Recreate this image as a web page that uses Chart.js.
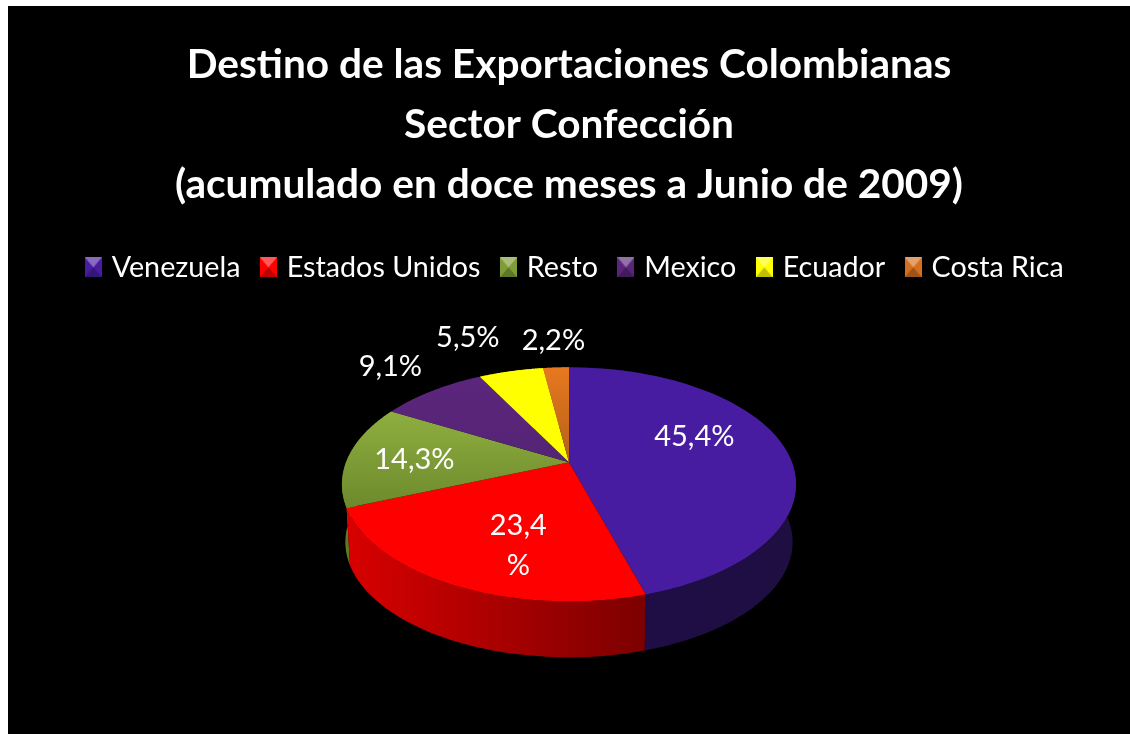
<!DOCTYPE html>
<html lang="es">

<head>
  <meta charset="UTF-8">
  <title>Destino de las Exportaciones Colombianas</title>
  <script src="https://cdn.jsdelivr.net/npm/chart.js"></script>
  <style>
    html, body { margin: 0; background: #fff; overflow: hidden; }
    #wrap { position: absolute; left: 8px; top: 6px; width: 1122px; height: 728px; background: #000; }
  </style>
</head>

<body>
  <div id="wrap"><canvas id="pie" width="1122" height="728"></canvas></div>

<script>
  const paises = ['Venezuela', 'Estados Unidos', 'Resto', 'Mexico', 'Ecuador', 'Costa Rica'];
  const participacion = [45.4, 23.4, 14.3, 9.1, 5.5, 2.2];
  const titulo = ['Destino de las Exportaciones Colombianas', 'Sector Confección', '(acumulado en doce meses a Junio de 2009)'];

  const colores = ['#471ca0', '#ff0000', '#7f9c37', '#59257a', '#ffff00', '#d46f1f'];
  const coloresArriba = ['#471ca0', '#ff0000', '#8fae3f', '#5b267d', '#ffff00', '#e8781f'];
  const coloresAbajo = ['#471ca0', '#ff0000', '#6c8a2c', '#552474', '#ffff00', '#b5601a'];
  const paredIzq = ['#1f0e48', '#d80000', '#5f7a26', '#2e1240', '#9a9a00', '#8a4a12'];
  const paredDer = ['#1f0e42', '#7c0000', '#5f7a26', '#2e1240', '#9a9a00', '#8a4a12'];

  // ajuste de cada etiqueta respecto a su punto sobre la torta
  const etiquetaFuera = [false, false, false, true, true, true];
  const etiquetaAjuste = [[-5, -16], [14, 15], [-22, 2], [-24, -15], [-36, -22], [-1, -15]];
  const etiquetaPartida = [false, true, false, false, false, false];

  // perspectiva de la torta
  const k = 0.188, escalaX = 1.906, escalaY = 0.965, subidaCentro = 22;
  const profundidad = 58, encogeBase = 0.985;

  function proyecta(el, ang, f) {
    const u = f * Math.cos(ang), v = f * Math.sin(ang), s = 1 / (1 - k * v);
    return {
      x: el.x + escalaX * el.outerRadius * u * s,
      y: el.y - subidaCentro + escalaY * el.outerRadius * v * s
    };
  }

  function base(el, p) {
    const cy = el.y - subidaCentro;
    return { x: el.x + (p.x - el.x) * encogeBase, y: cy + (p.y - cy) * encogeBase + profundidad };
  }

  function borde(el) {
    const n = 60, pts = [];
    for (let i = 0; i <= n; i++) {
      pts.push(proyecta(el, el.startAngle + (el.endAngle - el.startAngle) * i / n, 1));
    }
    return pts;
  }

  function marcador(color) {
    const c = document.createElement('canvas');
    c.width = 17; c.height = 20;
    const g = c.getContext('2d');
    g.fillStyle = color; g.fillRect(0, 0, 17, 20);
    g.fillStyle = 'rgba(255,255,255,0.35)';
    g.beginPath(); g.moveTo(0, 0); g.lineTo(17, 0); g.lineTo(8.5, 10); g.fill();
    g.fillStyle = 'rgba(0,0,0,0.25)';
    g.beginPath(); g.moveTo(0, 20); g.lineTo(17, 20); g.lineTo(8.5, 10); g.fill();
    return c;
  }

  const torta3d = {
    id: 'torta3d',
    afterLayout(chart) {
      // la leyenda va un poco a la derecha del centro
      chart.legend.left += 15;
    },
    beforeDatasetsDraw(chart) {
      const ctx = chart.ctx;
      const arcos = chart.getDatasetMeta(0).data;

      // paredes, de atras hacia adelante
      const orden = arcos.map((el, i) => i).sort((a, b) =>
        Math.sin((arcos[a].startAngle + arcos[a].endAngle) / 2) - Math.sin((arcos[b].startAngle + arcos[b].endAngle) / 2));
      orden.forEach(i => {
        const el = arcos[i], pts = borde(el);
        const abajo = pts.map(p => base(el, p)).reverse();
        const xs = pts.map(p => p.x);
        const grad = ctx.createLinearGradient(Math.min(...xs), 0, Math.max(...xs), 0);
        grad.addColorStop(0, paredIzq[i]);
        grad.addColorStop(1, paredDer[i]);
        ctx.beginPath();
        pts.concat(abajo).forEach((p, j) => j ? ctx.lineTo(p.x, p.y) : ctx.moveTo(p.x, p.y));
        ctx.closePath();
        ctx.fillStyle = grad;
        ctx.fill();
      });

      // cara superior
      arcos.forEach((el, i) => {
        const pts = borde(el), c = proyecta(el, 0, 0);
        const ys = pts.map(p => p.y).concat(c.y);
        const grad = ctx.createLinearGradient(0, Math.min(...ys), 0, Math.max(...ys));
        grad.addColorStop(0, coloresArriba[i]);
        grad.addColorStop(1, coloresAbajo[i]);
        ctx.beginPath();
        ctx.moveTo(c.x, c.y);
        pts.forEach(p => ctx.lineTo(p.x, p.y));
        ctx.closePath();
        ctx.fillStyle = grad;
        ctx.fill();
      });

      // etiquetas
      ctx.font = '29px Lato';
      ctx.fillStyle = '#fff';
      ctx.textAlign = 'center';
      ctx.textBaseline = 'middle';
      arcos.forEach((el, i) => {
        const p = proyecta(el, (el.startAngle + el.endAngle) / 2, etiquetaFuera[i] ? 1.15 : 0.6);
        const x = p.x + etiquetaAjuste[i][0], y = p.y + etiquetaAjuste[i][1];
        const txt = participacion[i].toFixed(1).replace('.', ',');
        if (etiquetaPartida[i]) {
          ctx.fillText(txt, x, y - 20);
          ctx.fillText('%', x, y + 20);
        } else {
          ctx.fillText(txt + '%', x, y);
        }
      });
      return false;
    }
  };

  new Chart(document.getElementById('pie'), {
    type: 'pie',
    data: {
      labels: paises,
      datasets: [{ data: participacion, backgroundColor: colores, radius: 117, borderWidth: 0 }]
    },
    plugins: [torta3d],
    options: {
      responsive: false,
      animation: false,
      layout: { padding: { bottom: 57 } },
      plugins: {
        tooltip: { enabled: false },
        title: {
          display: true,
          text: titulo,
          color: '#fff',
          font: { family: 'Lato', size: 40.6, weight: 'bold', lineHeight: 60 / 40.6 },
          padding: { top: 29, bottom: 14 }
        },
        legend: {
          position: 'top',
          labels: {
            color: '#fff',
            font: { family: 'Lato', size: 28.7 },
            usePointStyle: true,
            boxWidth: 8,
            padding: 24,
            generateLabels: chart => paises.map((p, i) => ({
              text: p,
              fontColor: '#fff',
              fillStyle: colores[i],
              strokeStyle: colores[i],
              lineWidth: 0,
              pointStyle: marcador(colores[i]),
              index: i
            }))
          }
        }
      }
    }
  });
</script>
</body>

</html>
